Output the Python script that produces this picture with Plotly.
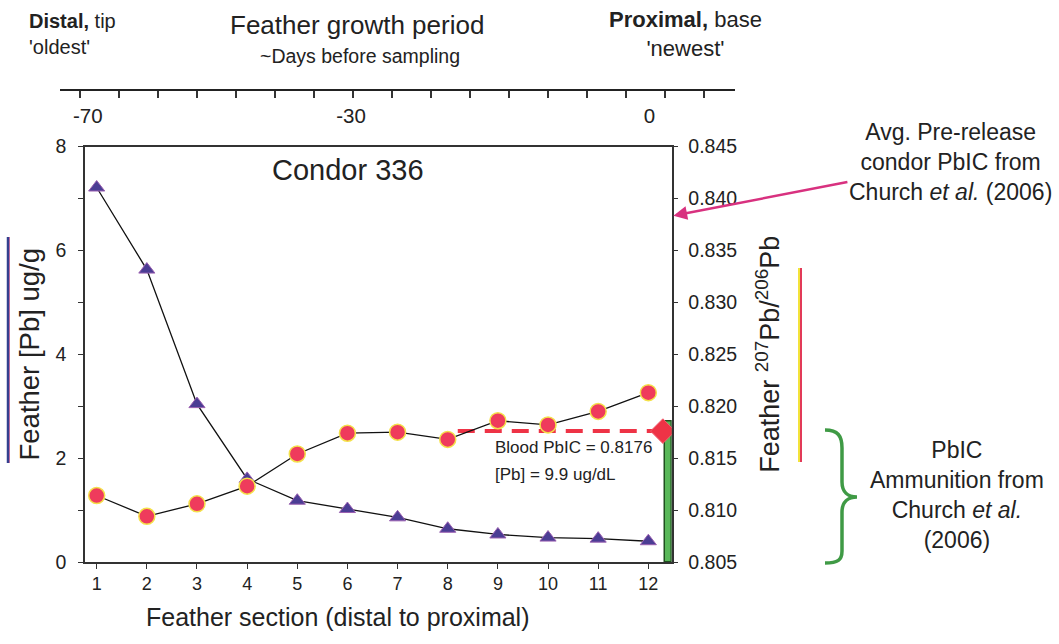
import plotly.graph_objects as go

# ---------------- data ----------------
sections = list(range(1, 13))
feather_pb = [7.21, 5.63, 3.04, 1.60, 1.18, 1.02, 0.86, 0.64, 0.53, 0.47, 0.45, 0.40]
feather_pbic = [0.8114, 0.8094, 0.8106, 0.8123, 0.8154, 0.8174, 0.8175, 0.8168,
                0.8186, 0.8182, 0.8195, 0.8213]
blood_pbic = 0.8176
blood_pb = 9.9
prerelease_pbic = 0.8383
ammo_pbic = [0.805, 0.8185]
top_tick_labels = ["-70", "-30", "0"]
x_tick_labels = [str(s) for s in sections]

# ---------------- layout helpers ----------------
W, H = 1059, 644
L, R, T, B = 40, 740, 80, 562
def px(x):
    return (x - L) / (R - L)
def py(y):
    return (B - y) / (B - T)

FONT = "Liberation Sans, Arial, sans-serif"
TXT = "#222222"
AX = "#333333"

fig = go.Figure()

# Pb concentration (left axis)
fig.add_trace(go.Scatter(
    x=sections, y=feather_pb, mode="lines+markers", yaxis="y", xaxis="x",
    line=dict(color="#111111", width=1.3),
    marker=dict(symbol="triangle-up", size=14, color="#4b3d94",
                line=dict(color="#9a5fb0", width=1)),
    hoverinfo="x+y"))

# invisible trace to carry the top axis
fig.add_trace(go.Scatter(x=[0], y=[0], xaxis="x3", yaxis="y", mode="markers",
                         marker=dict(opacity=0), hoverinfo="skip"))

# ammunition PbIC bar (right axis)
fig.add_trace(go.Bar(
    x=[12.40], y=[ammo_pbic[1] - ammo_pbic[0]], base=[ammo_pbic[0]], width=[0.13],
    yaxis="y2", xaxis="x", marker=dict(color="#58b858", line=dict(color="#1f4f1f", width=1.5)),
    hoverinfo="skip"))

# blood PbIC dashed reference
fig.add_trace(go.Scatter(
    x=[8.2, 12.29], y=[blood_pbic, blood_pbic], mode="lines", yaxis="y2", xaxis="x",
    line=dict(color="#ee3346", width=4, dash="17px,10px"), hoverinfo="skip"))
fig.add_trace(go.Scatter(
    x=[12.29], y=[blood_pbic], mode="markers", yaxis="y2", xaxis="x",
    marker=dict(symbol="diamond", size=19, color="#ee3346", line=dict(color="#f06070", width=1)),
    hoverinfo="x+y"))

# feather PbIC (right axis)
fig.add_trace(go.Scatter(
    x=sections, y=feather_pbic, mode="lines+markers", yaxis="y2", xaxis="x",
    line=dict(color="#111111", width=1.3),
    marker=dict(symbol="circle", size=16, color="#ef3b5c",
                line=dict(color="#f4e14a", width=1.5)),
    hoverinfo="x+y"))

shapes = []
# coloured bars next to axis titles
shapes.append(dict(type="line", xref="paper", yref="paper", x0=px(9), x1=px(9),
                   y0=py(237), y1=py(463), line=dict(color="#e0508a", width=1.5)))
shapes.append(dict(type="line", xref="paper", yref="paper", x0=px(8), x1=px(8),
                   y0=py(237), y1=py(463), line=dict(color="#33408f", width=2.5)))
shapes.append(dict(type="line", xref="paper", yref="paper", x0=px(799), x1=px(799),
                   y0=py(268), y1=py(462), line=dict(color="#f3e33a", width=2)))
shapes.append(dict(type="line", xref="paper", yref="paper", x0=px(801), x1=px(801),
                   y0=py(268), y1=py(462), line=dict(color="#e23a58", width=2)))

# green curly brace
def P(x, y):
    return f"{px(x):.5f},{py(y):.5f}"
brace = (f"M {P(825,430)} C {P(838,430)} {P(842,436)} {P(842,448)} "
         f"L {P(842,482)} C {P(842,492)} {P(848,497)} {P(857,497)} "
         f"C {P(848,497)} {P(842,502)} {P(842,512)} "
         f"L {P(842,551)} C {P(842,560)} {P(838,563)} {P(825,563)}")
shapes.append(dict(type="path", xref="paper", yref="paper", path=brace,
                   line=dict(color="#3f9a45", width=3.5)))

annotations = [
    dict(xref="paper", yref="paper", x=px(27), y=py(34), xanchor="left", yanchor="middle",
         align="left", showarrow=False, font=dict(size=20, color=TXT),
         text="<b>Distal,</b> tip<br>'oldest'"),
    dict(xref="paper", yref="paper", x=px(357), y=py(25), xanchor="center", yanchor="middle",
         showarrow=False, font=dict(size=26, color=TXT), text="Feather growth period"),
    dict(xref="paper", yref="paper", x=px(360), y=py(56), xanchor="center", yanchor="middle",
         showarrow=False, font=dict(size=19.5, color=TXT), text="~Days before sampling"),
    dict(xref="paper", yref="paper", x=px(685), y=py(34), xanchor="center", yanchor="middle",
         align="center", showarrow=False, font=dict(size=22, color=TXT),
         text="<b>Proximal,</b> base<br>'newest'"),
    dict(xref="paper", yref="paper", x=px(348), y=py(170), xanchor="center", yanchor="middle",
         showarrow=False, font=dict(size=29, color=TXT), text="Condor 336"),
    dict(xref="paper", yref="paper", x=px(493), y=py(447), xanchor="left", yanchor="middle",
         showarrow=False, font=dict(size=17, color=TXT),
         text=f"Blood PbIC = {blood_pbic:.4f}"),
    dict(xref="paper", yref="paper", x=px(493), y=py(474), xanchor="left", yanchor="middle",
         showarrow=False, font=dict(size=17, color=TXT),
         text=f"[Pb] = {blood_pb} ug/dL"),
    # pre-release annotation with arrow pointing at the right axis
    dict(xref="x", yref="y2", x=12.46, y=prerelease_pbic, ax=279, ay=-54,
         xanchor="center", yanchor="middle", align="center",
         showarrow=True, arrowhead=2, arrowsize=1.1, arrowwidth=2.5, arrowcolor="#d8317f",
         standoff=2, startstandoff=0, font=dict(size=23, color=TXT),
         text="Avg. Pre-release<br>condor PbIC from<br>Church <i>et al.</i> (2006)"),
    dict(xref="paper", yref="paper", x=px(957), y=py(495), xanchor="center", yanchor="middle",
         align="center", showarrow=False, font=dict(size=23, color=TXT),
         text="PbIC<br>Ammunition from<br>Church <i>et al.</i><br>(2006)"),
    dict(xref="paper", yref="paper", x=px(337), y=py(617), xanchor="center", yanchor="middle",
         showarrow=False, font=dict(size=25, color=TXT),
         text="Feather section (distal to proximal)"),
]

fig.update_layout(
    width=W, height=H,
    margin=dict(l=L, r=W - R, t=T, b=H - B),
    paper_bgcolor="white", plot_bgcolor="rgba(0,0,0,0)",
    showlegend=False,
    font=dict(family=FONT, color=TXT),
    shapes=shapes, annotations=annotations,
    bargap=0,
    xaxis=dict(domain=[px(85), px(671.7)], range=[0.767, 12.466],
               tickmode="array", tickvals=sections, ticktext=x_tick_labels,
               ticks="outside", ticklen=5, tickcolor=AX, tickfont=dict(size=18),
               showline=True, linecolor=AX, linewidth=1.5, mirror=True,
               showgrid=False, zeroline=False),
    yaxis=dict(domain=[0, py(146.5)], range=[0, 8], dtick=2, tick0=0,
               ticks="outside", ticklen=5, tickcolor=AX, tickfont=dict(size=19.5),
               minor=dict(dtick=1, tick0=0, ticks="outside", ticklen=5, tickcolor=AX),
               ticklabelstandoff=8,
               showline=True, linecolor=AX, linewidth=1.5, mirror=True,
               showgrid=False, zeroline=False,
               title=dict(text="Feather [Pb] ug/g", font=dict(size=27.5), standoff=8)),
    yaxis2=dict(overlaying="y", side="right", anchor="x", range=[0.805, 0.845],
                dtick=0.005, tick0=0.805, tickformat=".3f",
                ticks="outside", ticklen=5, tickcolor=AX, tickfont=dict(size=19.5),
                ticklabelstandoff=6,
                showline=True, linecolor=AX, linewidth=1.5,
                showgrid=False, zeroline=False,
                title=dict(text="Feather <sup>207</sup>Pb/<sup>206</sup>Pb",
                           font=dict(size=27), standoff=24)),
    xaxis3=dict(domain=[px(60), px(735)], anchor="free", position=py(90), side="bottom",
                range=[-0.513, 16.795], tickmode="array", tickvals=[0.2, 6.95, 14.6],
                ticktext=top_tick_labels, ticks="outside", ticklen=7,
                tickcolor="rgba(0,0,0,0)", tickfont=dict(size=20.5),
                minor=dict(dtick=1, tick0=0, ticks="outside", ticklen=7, tickcolor=AX,
                           tickwidth=1.5),
                showline=True, linecolor="#222222", linewidth=2,
                showgrid=False, zeroline=False),
)

fig.write_html("out.html")
